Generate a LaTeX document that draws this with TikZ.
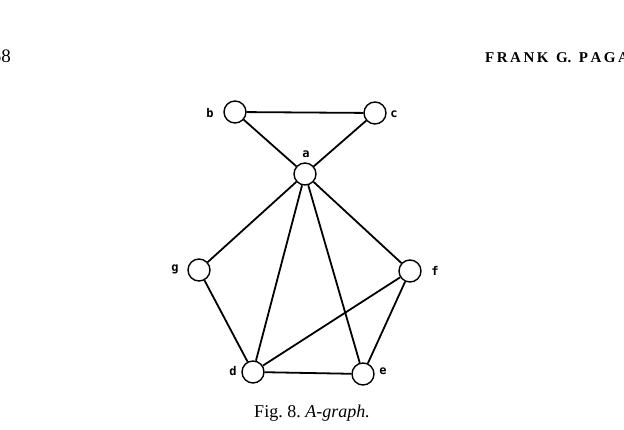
\documentclass[tikz,border=0pt]{standalone}
\usepackage{fontspec}
\setmainfont{Liberation Serif}
\newfontfamily\lblfont{DejaVu Sans Mono}
\begin{document}
\begin{tikzpicture}[x=1pt,y=-1pt,
  vtx/.style={circle,draw,line width=1.4pt,minimum size=22pt,inner sep=0pt},
  lbl/.style={font=\lblfont\bfseries\fontsize{12}{12}\selectfont,inner sep=0pt},
  edge/.style={line width=1.8pt}]
\useasboundingbox (0,0) rectangle (624,430);
\node[vtx] (b) at (235,112) {};
\node[vtx] (c) at (375,113) {};
\node[vtx] (a) at (305,174) {};
\node[vtx] (g) at (199,270) {};
\node[vtx] (f) at (410,271) {};
\node[vtx] (d) at (253,372) {};
\node[vtx] (e) at (363,374) {};
\node[lbl] (lb) at (210,113) {b};
\node[lbl] (lc) at (394,114) {c};
\node[lbl] (la) at (306,154) {a};
\node[lbl] (lg) at (175,269) {g};
\node[lbl] (lf) at (435,271) {f};
\node[lbl] (ld) at (233,371) {d};
\node[lbl] (le) at (383,371) {e};
\draw[edge] (b) -- (c);
\draw[edge] (b) -- (a);
\draw[edge] (c) -- (a);
\draw[edge] (a) -- (g);
\draw[edge] (a) -- (d);
\draw[edge] (a) -- (e);
\draw[edge] (a) -- (f);
\draw[edge] (g) -- (d);
\draw[edge] (f) -- (e);
\draw[edge] (d) -- (f);
\draw[edge] (d) -- (e);
\node[inner sep=0pt,anchor=base] (cap) at (312,417) {\fontsize{18}{18}\selectfont Fig.\ 8.\ \textit{A-graph.}};
\node[inner sep=0pt,anchor=base east] (pg) at (11,63) {\fontsize{19}{19}\selectfont 58};
\node[inner sep=0pt,anchor=base west] (hd) at (485,63) {\fontsize{15}{15}\selectfont\bfseries F\,R\,A\,N\,K\ \ G.\ \ P\,A\,G\,A\,N};
\end{tikzpicture}
\end{document}
